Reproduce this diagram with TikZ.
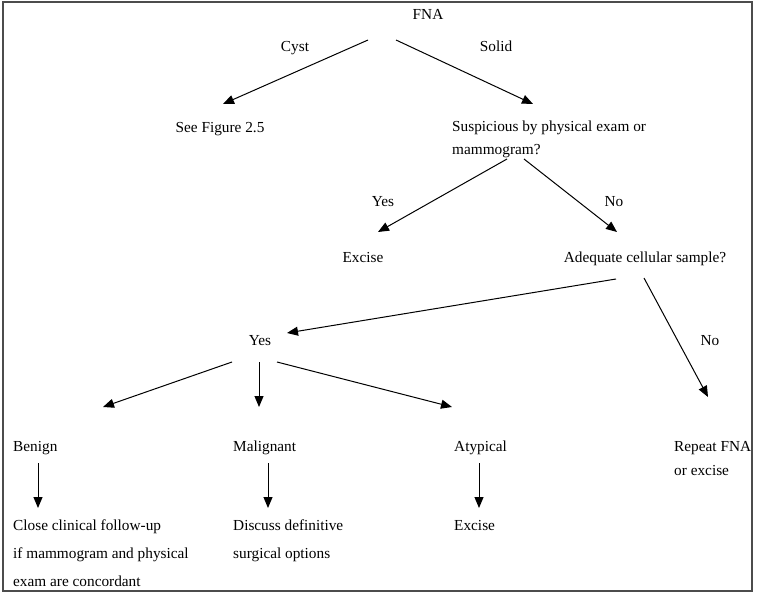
\documentclass[tikz,border=0pt]{standalone}
\usepackage{fontspec}
\setmainfont{Liberation Serif}
\usetikzlibrary{arrows.meta,calc}
\begin{document}
\begin{tikzpicture}[x=1pt,y=-1pt,
  lbl/.style={inner sep=0pt,font=\fontsize{15.3}{28}\selectfont},
  lblc/.style={lbl,anchor=base},
  lblw/.style={lbl,anchor=base west,align=left},
  arr/.style={line width=1pt,-{Triangle[length=11pt,width=9pt]}}]
\useasboundingbox (0,0) rectangle (757,593);
\draw[line width=1.2pt,draw=black!70] (3,2) rectangle (752,591);
% nodes (multi-line nodes: base = baseline of last line)
\node[lblc] (fna) at (428,20) {FNA};
\node[lblc] (cyst) at (295,52) {Cyst};
\node[lblc] (solid) at (496,52) {Solid};
\node[lblc] (seefig) at (220,133) {See Figure 2.5};
\node[lblw,font=\fontsize{15.3}{23}\selectfont] (susp) at (452,155) {Suspicious by physical exam or\\mammogram?};
\node[lblc] (yes1) at (383,207) {Yes};
\node[lblc] (no1) at (614,207) {No};
\node[lblc] (excise1) at (363,263) {Excise};
\node[lblc] (adequate) at (645,263) {Adequate cellular sample?};
\node[lblc] (yes2) at (260,345) {Yes};
\node[lblc] (no2) at (710,345) {No};
\node[lblw] (benign) at (13,451) {Benign};
\node[lblw] (malignant) at (233,451) {Malignant};
\node[lblw] (atypical) at (454,451) {Atypical};
\node[lblw,font=\fontsize{15.3}{24}\selectfont] (repeat) at (674,475) {Repeat FNA\\or excise};
\node[lblw] (close) at (13,586) {Close clinical follow-up\\if mammogram and physical\\exam are concordant};
\node[lblw] (discuss) at (233,558) {Discuss definitive\\surgical options};
\node[lblw] (excise2) at (454,530) {Excise};
% connectors
\draw[arr] ($(fna.base)+(-60,20)$) -- ($(seefig.base)+(3,-29)$);
\draw[arr] ($(fna.base)+(-32,20)$) -- ($(susp.base west)+(81,-51)$);
\draw[arr] ($(susp.base west)+(55,4)$) -- ($(excise1.base)+(15,-31)$);
\draw[arr] ($(susp.base west)+(72,4)$) -- ($(adequate.base)+(-28,-31)$);
\draw[arr] ($(adequate.base)+(-29,16)$) -- ($(yes2.base)+(27,-12)$);
\draw[arr] ($(adequate.base)+(-1,15)$) -- ($(repeat.base west)+(34,-78)$);
\draw[arr] ($(yes2.base)+(-28,17)$) -- ($(benign.base west)+(90,-44)$);
\draw[arr] ($(yes2.base)+(-1,17)$) -- ($(malignant.base west)+(26,-44)$);
\draw[arr] ($(yes2.base)+(17,17)$) -- ($(atypical.base west)+(-2,-44)$);
\draw[arr] ($(benign.base west)+(25,12)$) -- ($(close.base west)+(25,-78)$);
\draw[arr] ($(malignant.base west)+(35,12)$) -- ($(discuss.base west)+(35,-50)$);
\draw[arr] ($(atypical.base west)+(25,12)$) -- ($(excise2.base west)+(25,-22)$);
\end{tikzpicture}
\end{document}
